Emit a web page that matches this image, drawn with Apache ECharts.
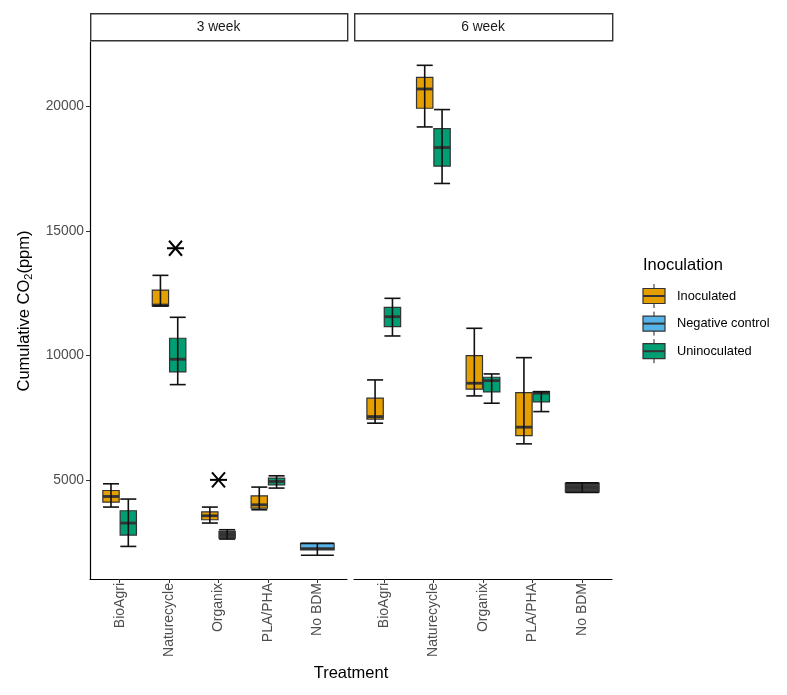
<!DOCTYPE html>
<html>
<head>
<meta charset="utf-8">
<script src="https://cdn.jsdelivr.net/npm/echarts@6/dist/echarts.min.js"></script>
<style>
  html, body { margin: 0; padding: 0; background: #fff; }
  #chart { width: 787px; height: 695px; }
</style>
</head>
<body>
<div id="chart"></div>
<script>
// categories and facets
var categories = ['BioAgri', 'Naturecycle', 'Organix', 'PLA/PHA', 'No BDM'];
var panels = ['3 week', '6 week'];
var groups = ['Inoculated', 'Negative control', 'Uninoculated'];
var yTicks = [5000, 10000, 15000, 20000];

// [min, q1, median, q3, max] per category, null = no box
var inoculated3 = [[3908, 4108, 4333, 4574, 4842], [11980, 11985, 12020, 12622, 13211], [3266, 3399, 3559, 3719, 3908], [3800, 3868, 4000, 4361, 4710], null];
var uninoculated3 = [[2328, 2785, 3266, 3760, 4229], [8824, 9333, 9843, 10685, 11527], [2623, 2663, 2797, 2930, 2998], [4670, 4802, 4935, 5070, 5163], null];
var negative3 = [null, null, null, null, [1975, 2190, 2240, 2450, 2450]];

var inoculated6 = [[7276, 7437, 7541, 8279, 9013], [19170, 19920, 20694, 21163, 21644], [8371, 8640, 8880, 9987, 11086], [6446, 6779, 7116, 8503, 9907], null];
var uninoculated6 = [[10777, 11150, 11551, 11928, 12289], [16900, 17594, 18344, 19106, 19867], [8078, 8531, 8985, 9121, 9253], [7741, 8130, 8482, 8543, 8543], null];
var negative6 = [null, null, null, null, [4493, 4510, 4696, 4870, 4880]];

// significance marks: [x position (category units), value]
var asterisks3 = [[1.13, 14300], [2, 5000]];

var colors = {'Inoculated': '#E69F00', 'Negative control': '#56B4E9', 'Uninoculated': '#009E73'};
// dodge offset and width in category units
var dodge = {'Inoculated': [-0.175, 0.33], 'Negative control': [0, 0.68], 'Uninoculated': [0.175, 0.33]};
// boxes that appear nearly black in the figure
var darkBoxes = {'3 week|Organix|Uninoculated': true, '6 week|No BDM|Negative control': true};

var FONT = '"Liberation Sans", Arial, sans-serif';

function toData(arr) {
  var out = [];
  arr.forEach(function (v, i) { if (v) out.push([i].concat(v)); });
  return out;
}

function boxRender(panel, group) {
  var shift = dodge[group][0], wFrac = dodge[group][1];
  return function (params, api) {
    var c = api.value(0);
    var band = api.size([1, 0])[0];
    var cx = api.coord([c, 0])[0] + shift * band;
    var w = wFrac * band;
    var yMin = api.coord([c, api.value(1)])[1];
    var yQ1 = api.coord([c, api.value(2)])[1];
    var yMed = api.coord([c, api.value(3)])[1];
    var yQ3 = api.coord([c, api.value(4)])[1];
    var yMax = api.coord([c, api.value(5)])[1];
    var key = panel + '|' + categories[c] + '|' + group;
    var fill = darkBoxes[key] ? '#3a3a3a' : colors[group];
    var capW = w * 0.98;
    return {
      type: 'group',
      children: [
        {type: 'rect', shape: {x: cx - w / 2, y: yQ3, width: w, height: Math.max(yQ1 - yQ3, 1)},
          style: {fill: fill, stroke: '#333', lineWidth: 1.2}},
        {type: 'line', shape: {x1: cx - w / 2, y1: yMed, x2: cx + w / 2, y2: yMed},
          style: {stroke: '#333', lineWidth: 2.8}},
        {type: 'line', shape: {x1: cx, y1: yMax, x2: cx, y2: yMin},
          style: {stroke: '#111', lineWidth: 1.6}},
        {type: 'line', shape: {x1: cx - capW / 2, y1: yMax, x2: cx + capW / 2, y2: yMax},
          style: {stroke: '#111', lineWidth: 1.6}},
        {type: 'line', shape: {x1: cx - capW / 2, y1: yMin, x2: cx + capW / 2, y2: yMin},
          style: {stroke: '#111', lineWidth: 1.6}}
      ]
    };
  };
}

function starRender(params, api) {
  var p = api.coord([api.value(0), api.value(1)]);
  var hw = 8.5, dx = 6.5, dy = 7.5;
  return {
    type: 'group',
    children: [
      {type: 'line', shape: {x1: p[0] - hw, y1: p[1], x2: p[0] + hw, y2: p[1]}, style: {stroke: '#000', lineWidth: 2}},
      {type: 'line', shape: {x1: p[0] - dx, y1: p[1] - dy, x2: p[0] + dx, y2: p[1] + dy}, style: {stroke: '#000', lineWidth: 2}},
      {type: 'line', shape: {x1: p[0] - dx, y1: p[1] + dy, x2: p[0] + dx, y2: p[1] - dy}, style: {stroke: '#000', lineWidth: 2}}
    ]
  };
}

var panelData = {
  '3 week': {'Inoculated': inoculated3, 'Negative control': negative3, 'Uninoculated': uninoculated3},
  '6 week': {'Inoculated': inoculated6, 'Negative control': negative6, 'Uninoculated': uninoculated6}
};

var series = [];
panels.forEach(function (panel, pi) {
  groups.forEach(function (group) {
    series.push({
      name: group,
      type: 'custom',
      xAxisIndex: pi,
      yAxisIndex: pi,
      renderItem: boxRender(panel, group),
      encode: {x: 0, y: [1, 2, 3, 4, 5]},
      data: toData(panelData[panel][group]),
      silent: true
    });
  });
});
series.push({
  type: 'custom',
  xAxisIndex: 0,
  yAxisIndex: 0,
  renderItem: starRender,
  encode: {x: 0, y: 1},
  data: asterisks3,
  z: 5,
  silent: true
});

var grids = [
  {left: 90, top: 42, width: 257, height: 537},
  {left: 354, top: 42, width: 258, height: 537}
];

var xAxes = grids.map(function (g, i) {
  return {
    gridIndex: i,
    type: 'value',
    min: -0.6,
    max: 4.6,
    axisLine: {show: true, onZero: false, lineStyle: {color: '#000', width: 1.2}},
    axisTick: {show: true, customValues: [0, 1, 2, 3, 4], length: 4, lineStyle: {color: '#333', width: 1}},
    axisLabel: {
      customValues: [0, 1, 2, 3, 4],
      rotate: 90,
      margin: 4,
      color: '#4d4d4d',
      fontSize: 14,
      fontFamily: FONT,
      formatter: function (v) { return categories[Math.round(v)]; }
    },
    splitLine: {show: false}
  };
});

var yAxes = grids.map(function (g, i) {
  return {
    gridIndex: i,
    type: 'value',
    min: 1020,
    max: 22580,
    axisLine: {show: i === 0, onZero: false, lineStyle: {color: '#000', width: 1.2}},
    axisTick: {show: i === 0, customValues: yTicks, length: 4, lineStyle: {color: '#333', width: 1}},
    axisLabel: {
      show: i === 0, customValues: yTicks, margin: 6, color: '#4d4d4d', fontSize: 13.8, fontFamily: FONT,
      formatter: function (v) { return String(v); }
    },
    splitLine: {show: false}
  };
});

var graphics = [];
// facet strips
panels.forEach(function (panel, i) {
  var g = grids[i];
  graphics.push({
    type: 'rect', left: g.left, top: 13, silent: true,
    shape: {width: g.width, height: 27},
    style: {fill: '#fff', stroke: '#333', lineWidth: 1.4}
  });
  graphics.push({
    type: 'text', x: g.left + g.width / 2, y: 27, silent: true,
    style: {text: panel, fill: '#1a1a1a', fontSize: 13.8, fontFamily: FONT, align: 'center', verticalAlign: 'middle'}
  });
});
// axis titles
graphics.push({
  type: 'text', x: 24, y: 311, rotation: Math.PI / 2, silent: true,
  style: {
    text: 'Cumulative CO{sub|2}(ppm)', fill: '#000', fontSize: 16.5, fontFamily: FONT,
    align: 'center', verticalAlign: 'middle',
    rich: {sub: {fontSize: 11, fontFamily: FONT, fill: '#000', padding: [10, 0, 0, 0]}}
  }
});
graphics.push({
  type: 'text', x: 351, y: 673, silent: true,
  style: {text: 'Treatment', fill: '#000', fontSize: 16.5, fontFamily: FONT, align: 'center', verticalAlign: 'middle'}
});
// legend
graphics.push({
  type: 'text', x: 643, y: 265, silent: true,
  style: {text: 'Inoculation', fill: '#000', fontSize: 16.5, fontFamily: FONT, align: 'left', verticalAlign: 'middle'}
});
groups.forEach(function (group, i) {
  var cy = 296 + i * 27.6, cx = 654;
  graphics.push({type: 'line', silent: true, shape: {x1: cx, y1: cy - 12, x2: cx, y2: cy + 12}, style: {stroke: '#222', lineWidth: 1}});
  graphics.push({type: 'rect', silent: true, shape: {x: cx - 11, y: cy - 7.5, width: 22, height: 15}, style: {fill: colors[group], stroke: '#333', lineWidth: 1.2}});
  graphics.push({type: 'line', silent: true, shape: {x1: cx - 11, y1: cy, x2: cx + 11, y2: cy}, style: {stroke: '#333', lineWidth: 2}});
  graphics.push({
    type: 'text', x: 677, y: cy, silent: true,
    style: {text: group, fill: '#000', fontSize: 12.8, fontFamily: FONT, align: 'left', verticalAlign: 'middle'}
  });
});

var chart = echarts.init(document.getElementById('chart'), null, {renderer: 'canvas'});
chart.setOption({
  backgroundColor: '#fff',
  animation: false,
  grid: grids,
  xAxis: xAxes,
  yAxis: yAxes,
  series: series,
  graphic: graphics
});
</script>
</body>
</html>
